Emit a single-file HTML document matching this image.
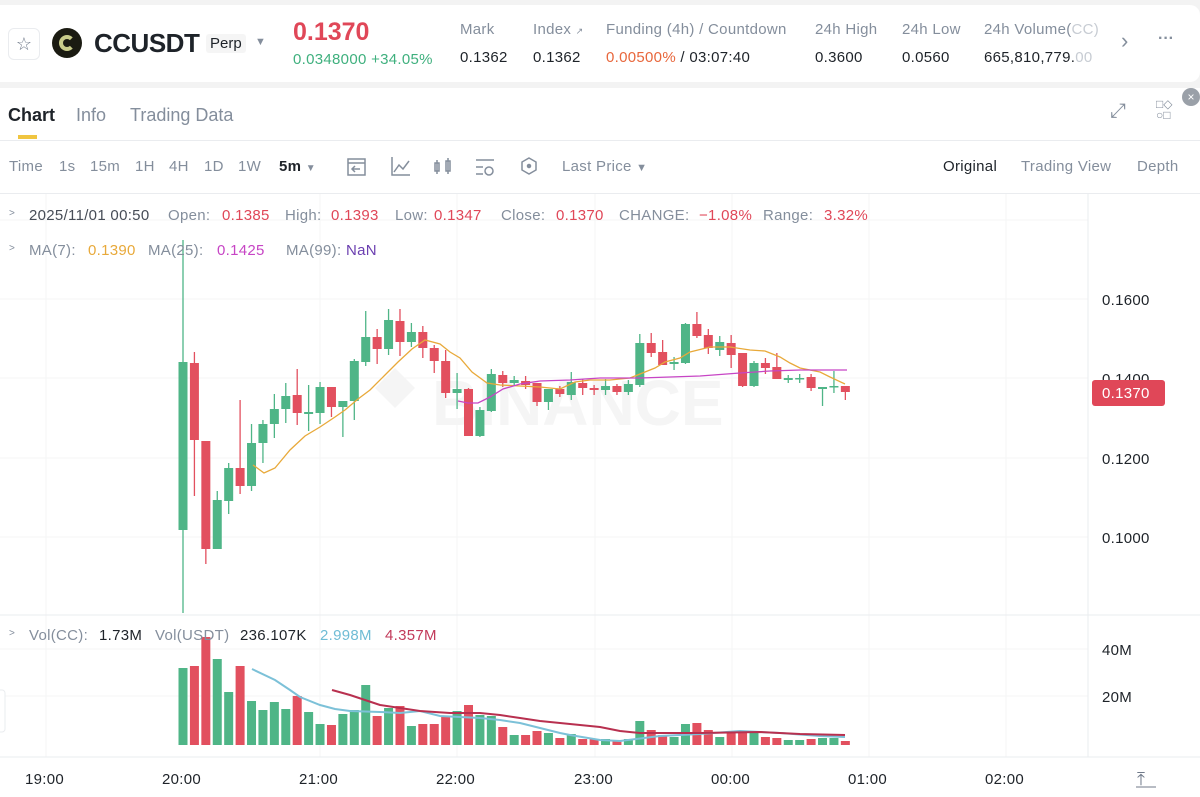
<!DOCTYPE html>
<html><head><meta charset="utf-8"><style>
*{margin:0;padding:0;box-sizing:border-box}
body{width:1200px;height:797px;background:#f3f3f3;font-family:"Liberation Sans",sans-serif;position:relative;overflow:hidden;color:#1e2329}
.a{position:absolute;white-space:nowrap}
.g{color:#848e9c}
.r{color:#e04758}
.t{position:absolute;white-space:nowrap;font-size:15px;letter-spacing:0.3px}
</style></head><body>
<div class="a" style="left:0;top:5px;width:1200px;height:77px;background:#fff;border-radius:0 10px 10px 0"></div>
<div class="a" style="left:8px;top:28px;width:32px;height:32px;border:1px solid #eaecef;border-radius:6px;font-size:18px;color:#707a8a;text-align:center;line-height:30px">☆</div>
<div class="a" style="left:52px;top:28px;width:30px;height:30px;border-radius:50%;background:#1b1b12"><div style="position:absolute;left:7px;top:7px;width:16px;height:16px;border:4px solid #c9cc8a;border-right-color:transparent;border-radius:50%"></div></div>
<div class="a" style="left:94px;top:28px;font-size:26px;font-weight:bold;letter-spacing:-0.5px">CCUSDT</div>
<div class="a" style="left:206px;top:34px;font-size:15px;background:#f5f5f5;padding:1px 4px;border-radius:3px">Perp</div>
<div class="a g" style="left:255px;top:36px;font-size:11px">▼</div>
<div class="a" style="left:293px;top:18px;font-size:25px;font-weight:bold;color:#e04758">0.1370</div>
<div class="a" style="left:293px;top:51px;font-size:15px;color:#3fb07e;letter-spacing:0.3px">0.0348000 +34.05%</div>
<div class="t g" style="left:460px;top:21px">Mark</div>
<div class="t" style="left:460px;top:49px">0.1362</div>
<div class="t g" style="left:533px;top:21px">Index <span style="font-size:9px">↗</span></div>
<div class="t" style="left:533px;top:49px">0.1362</div>
<div class="t g" style="left:606px;top:21px">Funding (4h) / Countdown</div>
<div class="t" style="left:606px;top:49px"><span style="color:#e8673c">0.00500%</span> / 03:07:40</div>
<div class="t g" style="left:815px;top:21px">24h High</div>
<div class="t" style="left:815px;top:49px">0.3600</div>
<div class="t g" style="left:902px;top:21px">24h Low</div>
<div class="t" style="left:902px;top:49px">0.0560</div>
<div class="t g" style="left:984px;top:21px">24h Volume(<span style="color:#c7ccd3">CC)</span></div>
<div class="t" style="left:984px;top:49px">665,810,779.<span style="color:#c7ccd3">00</span></div>
<div class="a g" style="left:1121px;top:28px;font-size:22px">›</div>
<div class="a g" style="left:1158px;top:30px;font-size:16px;font-weight:bold">···</div>

<div class="a" style="left:0;top:88px;width:1200px;height:709px;background:#fff"></div>
<div class="a" style="left:8px;top:105px;font-size:18px;font-weight:bold">Chart</div>
<div class="a" style="left:18px;top:135px;width:19px;height:4px;background:#f0c540"></div>
<div class="a g" style="left:76px;top:105px;font-size:18px">Info</div>
<div class="a g" style="left:130px;top:105px;font-size:18px">Trading Data</div>
<div class="a g" style="left:1110px;top:100px;font-size:20px">⤢</div>
<div class="a g" style="left:1156px;top:99px;font-size:12px;line-height:11px">□◇<br>○□</div>
<div class="a" style="left:1182px;top:88px;width:18px;height:18px;border-radius:50%;background:#9aa0a8;color:#fff;font-size:12px;text-align:center;line-height:18px">×</div>
<div class="a" style="left:0;top:140px;width:1200px;height:1px;background:#eaecef"></div>
<div class="t g" style="left:9px;top:158px">Time</div>
<div class="t g" style="left:59px;top:158px">1s</div>
<div class="t g" style="left:90px;top:158px">15m</div>
<div class="t g" style="left:135px;top:158px">1H</div>
<div class="t g" style="left:169px;top:158px">4H</div>
<div class="t g" style="left:204px;top:158px">1D</div>
<div class="t g" style="left:238px;top:158px">1W</div>
<div class="t" style="left:279px;top:158px;font-weight:bold">5m <span class="g" style="font-size:10px">▼</span></div>
<svg class="a" style="left:340px;top:152px" width="200" height="30" fill="none" stroke="#848e9c" stroke-width="1.5">
<rect x="8" y="7" width="17" height="16"/><line x1="8" y1="11" x2="25" y2="11"/><path d="M20 17h-8m3-3l-3 3 3 3"/>
<path d="M52 5v18h18M54 20l5-7 4 4 6-8"/>
<path d="M97 8v14M95 11h4v8h-4zM108 6v16M106 9h4v10h-4z"/>
<path d="M136 8h18M136 15h7M136 22h7"/><circle cx="149" cy="19" r="4"/>
<path d="M189 6l7 4v8l-7 4-7-4v-8z"/><circle cx="189" cy="14" r="1.5" fill="#848e9c"/>
</svg>
<div class="t g" style="left:562px;top:158px">Last Price <span style="font-size:11px">▼</span></div>
<div class="t" style="left:943px;top:158px">Original</div>
<div class="t g" style="left:1021px;top:158px">Trading View</div>
<div class="t g" style="left:1137px;top:158px">Depth</div>
<div class="a" style="left:0;top:193px;width:1200px;height:1px;background:#eaecef"></div>

<svg class="a" style="left:0;top:194px" width="1200" height="603" viewBox="0 194 1200 603">
<g stroke="#f4f5f6" stroke-width="1">
<line x1="0" y1="220" x2="1088" y2="220"/><line x1="0" y1="299" x2="1088" y2="299"/><line x1="0" y1="378" x2="1088" y2="378"/><line x1="0" y1="458" x2="1088" y2="458"/><line x1="0" y1="537" x2="1088" y2="537"/><line x1="0" y1="696" x2="1088" y2="696"/><line x1="0" y1="649" x2="1088" y2="649"/>
<line x1="46" y1="194" x2="46" y2="757"/><line x1="320" y1="194" x2="320" y2="757"/><line x1="457" y1="194" x2="457" y2="757"/><line x1="595" y1="194" x2="595" y2="757"/><line x1="732" y1="194" x2="732" y2="757"/><line x1="869" y1="194" x2="869" y2="757"/><line x1="1006" y1="194" x2="1006" y2="757"/>
</g>
<line x1="0" y1="615" x2="1200" y2="615" stroke="#eaecef"/>
<line x1="0" y1="757" x2="1200" y2="757" stroke="#eaecef"/>
<line x1="1088" y1="194" x2="1088" y2="757" stroke="#eaecef"/>
<path d="M395 368l20 20-20 20-20-20zM395 398l-10-10 10-10 10 10z" fill="#f5f5f5"/>
<text x="432" y="425" font-size="64" font-weight="bold" fill="#f5f5f5" font-family="Liberation Sans">BINANCE</text>
<g id="c"></g>
<polyline fill="none" stroke="#e8a93a" stroke-width="1.3" points="253,465 264,473 275,468 290,450 305,436 320,427 335,417 345,410 358,399 370,390 385,375 398,362 412,349 425,340 440,344 450,352 460,358 472,372 487,383 500,385 520,386 540,387 560,389 575,382 590,380 610,380 630,378 645,372 655,368 665,362 680,358 690,352 710,347 730,347 750,350 765,351 780,357 790,363 800,368 820,372 830,377 845,384"/>
<polyline fill="none" stroke="#c745c5" stroke-width="1.3" points="458,401 468,403 478,403 490,397 503,389 520,384 540,381 570,380 600,378 640,378 700,376 740,373 770,371 800,370 847,370"/>
<polyline fill="none" stroke="#7cc1d8" stroke-width="2" points="252,669 275,680 290,690 300,697 320,705 335,709 350,711 380,712 400,713 420,711 440,716 480,718 500,720 520,723 540,728 560,733 570,735 600,740 620,741 660,736 700,734 740,731 780,733 820,736 845,737"/>
<polyline fill="none" stroke="#b8304f" stroke-width="2" points="332,690 350,695 380,705 400,708 420,711 450,713 480,713 500,715 520,718 540,721 560,723 580,725 600,727 620,731 640,733 700,733 760,732 800,734 845,735"/>
<g font-size="15" fill="#1e2329" font-family="Liberation Sans" letter-spacing="0.3">
<text x="1102" y="305">0.1600</text><text x="1102" y="384">0.1400</text><text x="1102" y="464">0.1200</text><text x="1102" y="543">0.1000</text>
<text x="1102" y="655">40M</text><text x="1102" y="702">20M</text>
<text x="25" y="784">19:00</text><text x="162" y="784">20:00</text><text x="299" y="784">21:00</text><text x="436" y="784">22:00</text><text x="574" y="784">23:00</text><text x="711" y="784">00:00</text><text x="848" y="784">01:00</text><text x="985" y="784">02:00</text>
</g>
<rect x="1092" y="380" width="73" height="26" rx="3" fill="#e04758"/>
<text x="1102" y="398" font-size="15" fill="#fff" font-family="Liberation Sans" letter-spacing="0.3">0.1370</text>
<text x="1137" y="785" font-size="18" fill="#707a8a">⤒</text>
<line x1="1136" y1="787" x2="1156" y2="787" stroke="#707a8a"/>
<rect x="-5" y="690" width="10" height="42" rx="3" fill="#fff" stroke="#eaecef"/>
</svg>
<div class="t g" style="left:9px;top:208px;font-size:10px">&gt;</div>
<div class="t" style="left:29px;top:207px;color:#474d57">2025/11/01 00:50</div>
<div class="t g" style="left:168px;top:207px">Open:</div><div class="t r" style="left:222px;top:207px">0.1385</div>
<div class="t g" style="left:285px;top:207px">High:</div><div class="t r" style="left:331px;top:207px">0.1393</div>
<div class="t g" style="left:395px;top:207px">Low:</div><div class="t r" style="left:434px;top:207px">0.1347</div>
<div class="t g" style="left:501px;top:207px">Close:</div><div class="t r" style="left:556px;top:207px">0.1370</div>
<div class="t g" style="left:619px;top:207px">CHANGE:</div><div class="t r" style="left:699px;top:207px">−1.08%</div>
<div class="t g" style="left:763px;top:207px">Range:</div><div class="t r" style="left:824px;top:207px">3.32%</div>
<div class="t g" style="left:9px;top:243px;font-size:10px">&gt;</div>
<div class="t g" style="left:29px;top:242px">MA(7):</div><div class="t" style="left:88px;top:242px;color:#e8a93a">0.1390</div>
<div class="t g" style="left:148px;top:242px">MA(25):</div><div class="t" style="left:217px;top:242px;color:#c745c5">0.1425</div>
<div class="t g" style="left:286px;top:242px">MA(99):</div><div class="t" style="left:346px;top:242px;color:#6b3fb0">NaN</div>
<div class="t g" style="left:9px;top:628px;font-size:10px">&gt;</div>
<div class="t g" style="left:29px;top:627px">Vol(CC):</div><div class="t" style="left:99px;top:627px">1.73M</div>
<div class="t g" style="left:155px;top:627px">Vol(USDT)</div><div class="t" style="left:240px;top:627px">236.107K</div>
<div class="t" style="left:320px;top:627px;color:#6fbcd5">2.998M</div><div class="t" style="left:385px;top:627px;color:#c23a5a">4.357M</div>
<script>
var C=[[1,240,362,530,613],[0,352,363,440,496],[0,441,441,549,564],[1,491,500,549,549],[1,463,468,501,514],[0,400,468,486,494],[1,424,443,486,491],[1,420,424,443,463],[1,394,409,424,438],[1,383,396,409,423],[0,369,395,413,425],[1,385,412,414,431],[1,382,387,413,424],[0,387,387,407,417],[1,401,401,407,437],[1,359,361,401,420],[1,311,337,362,366],[0,329,337,349,364],[1,309,320,349,355],[0,309,321,342,356],[1,323,332,342,347],[0,326,332,348,358],[0,345,348,361,373],[0,350,361,393,398],[1,373,389,393,409],[0,388,389,436,436],[1,407,410,436,437],[1,369,374,411,412],[0,371,375,383,387],[1,376,380,383,385],[0,376,381,385,389],[0,383,383,402,406],[1,389,389,402,410],[0,386,389,394,397],[1,372,382,395,400],[0,379,383,388,395],[0,385,388,390,395],[1,379,386,390,395],[0,384,386,392,395],[1,380,384,392,395],[1,334,343,385,387],[0,333,343,353,357],[0,340,352,365,365],[1,357,362,364,370],[1,323,324,363,364],[0,312,324,336,338],[0,329,335,348,354],[1,336,342,350,356],[0,335,343,355,368],[0,353,353,386,387],[1,361,363,386,387],[0,358,363,368,374],[0,353,367,379,379],[1,375,378,380,383],[1,374,378,379,383],[0,374,377,388,391],[1,387,387,389,406],[1,371,386,387,393],[0,386,386,392,400]];
var V=[668,666,637,659,692,666,701,710,702,709,696,712,724,725,714,710,685,716,708,706,726,724,724,717,711,705,715,716,727,735,735,731,733,738,734,739,739,739,740,739,721,730,735,737,724,723,730,737,733,733,733,737,738,740,740,739,738,738,741];
var h='';
for(var i=0;i<C.length;i++){var c=C[i],x=183+i*11.42,col=c[0]?'#4fb587':'#e2505f';
h+='<line x1="'+x+'" y1="'+c[1]+'" x2="'+x+'" y2="'+c[4]+'" stroke="'+col+'" stroke-width="1.3"/>';
h+='<rect x="'+(x-4.5)+'" y="'+c[2]+'" width="9" height="'+Math.max(1.5,c[3]-c[2])+'" fill="'+col+'"/>';
h+='<rect x="'+(x-4.5)+'" y="'+V[i]+'" width="9" height="'+(745-V[i])+'" fill="'+col+'"/>';}
document.getElementById('c').innerHTML=h;
</script>
</body></html>
